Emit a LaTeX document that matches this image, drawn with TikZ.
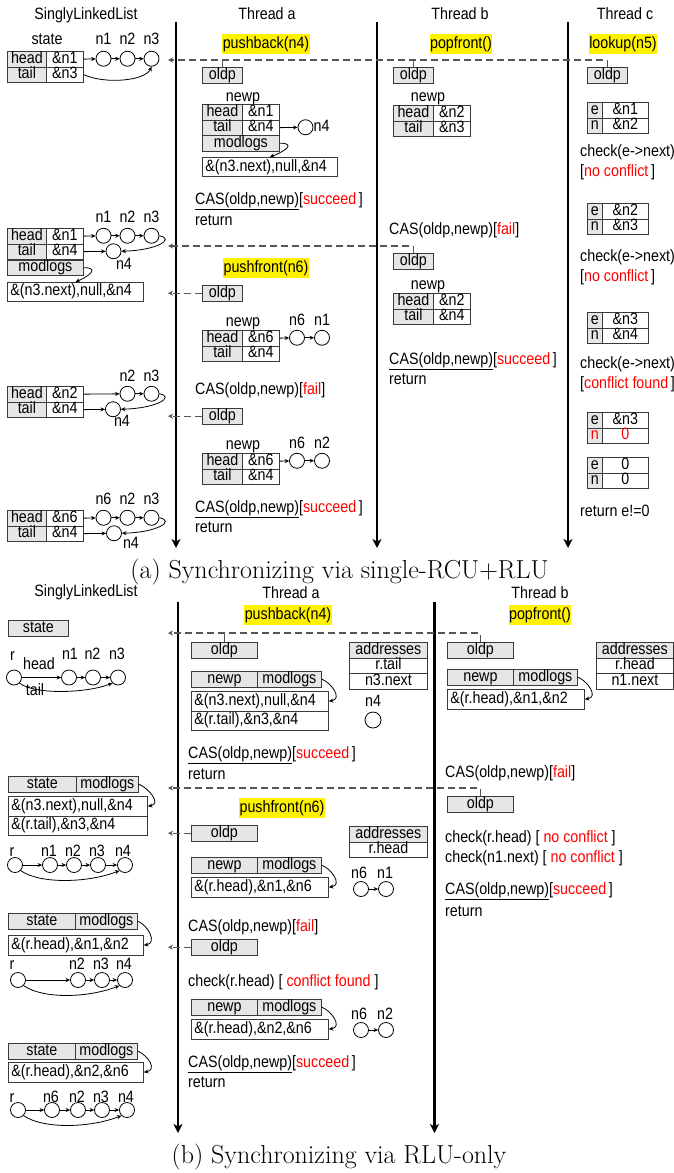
\documentclass[tikz,border=0pt]{standalone}
\usepackage{fontspec}
\setmainfont{Latin Modern Roman}
\newfontfamily\labfont[FakeStretch=0.87]{Liberation Sans}
\usetikzlibrary{arrows.meta}
\definecolor{cfill}{HTML}{E6E6E6}
\definecolor{bdr}{HTML}{3A3A3A}
\definecolor{dgr}{HTML}{555555}
\tikzset{
 lbl/.style={font={\labfont\fontsize{16.4}{19}\selectfont}, inner sep=0pt, text height=11.7pt, text depth=3.4pt},
 txl/.style={lbl, anchor=west},
 cell/.style={lbl, draw=bdr, line width=0.8pt, anchor=north west, minimum height=15.5pt},
 cg/.style={cell, fill=cfill},
 cw/.style={cell, fill=white},
 logc/.style={cell, fill=white, inner xsep=3pt, text width=#1, align=left, minimum height=19.5pt},
 circ/.style={circle, draw=black, line width=0.8pt, minimum size=15pt, inner sep=0pt},
 conn/.style={draw=black, line width=0.8pt, -{Stealth[length=4.5pt,width=4pt]}},
 thr/.style={draw=black, line width=2.2pt, -{Stealth[length=9pt,width=9pt,inset=2.5pt]}},
 dsh/.style={draw=dgr, line width=1.3pt, dash pattern=on 7pt off 4pt, -{Stealth[length=5pt,width=5pt]}},
 tk/.style={draw=dgr, line width=1pt},
 hl/.style={lbl, fill=yellow, inner xsep=0.5pt, inner ysep=2.5pt},
 captxt/.style={font={\fontsize{26}{30}\selectfont}, inner sep=0pt, anchor=base},
}
\begin{document}
\begin{tikzpicture}[x=1pt,y=-1pt]
\useasboundingbox (0,0) rectangle (674,1173);

%%%%%%%%%%%%%%%% (a)
\node[lbl] (tSLa) at (86,15) {SinglyLinkedList};
\node[lbl] (tAa) at (267,15) {Thread a};
\node[lbl] (tBa) at (460,15) {Thread b};
\node[lbl] (tCa) at (625,15) {Thread c};

\coordinate (a1t) at (176,22); \coordinate (a1b) at (176,548);
\coordinate (a2t) at (377,22); \coordinate (a2b) at (377,548);
\coordinate (a3t) at (568,22); \coordinate (a3b) at (568,548);
\draw[thr] (a1t) -- (a1b);
\draw[thr] (a2t) -- (a2b);
\draw[thr] (a3t) -- (a3b);

\node[hl] (hPBa) at (266,44) {pushback(n4)};
\node[hl] (hPopa) at (461,44) {popfront()};
\node[hl] (hLka) at (623,44) {lookup(n5)};
\node[hl] (hPFa) at (266,268) {pushfront(n6)};

% Thread a
\node[cg, minimum width=40pt] (oAa1) at (202,67) {oldp};
\node[lbl] (npAa1) at (243,97) {newp};
\node[cg, minimum width=40pt] (hAa1) at (202,104) {head};
\node[cw, minimum width=37pt] (vAa1) at (242,104) {\&n1};
\node[cg, minimum width=40pt] (tAa1) at (202,119.5) {tail};
\node[cw, minimum width=37pt] (wAa1) at (242,119.5) {\&n4};
\node[cg, minimum width=77pt] (mAa1) at (202,135) {modlogs};
\node[logc=129pt, minimum height=19pt] (gAa1) at (202,157) {\&(n3.next),null,\&n4};
\node[circ] (cAa1) at (305.5,127.25) {};
\node[txl] (lAa1) at (313.5,127.25) {n4};
\draw[conn] (wAa1.east) -- (cAa1);
\draw[conn] (mAa1.east) .. controls +(16,0) and +(16,-6) .. (gAa1.north);
\node[txl] (casAa1) at (195,200) {\underline{CAS(oldp,newp)}[\textcolor{red}{succeed}\,]};
\node[txl] (retAa1) at (195,221) {return};

\node[cg, minimum width=40pt] (oAa2) at (202,285) {oldp};
\node[lbl] (npAa2) at (243,322) {newp};
\node[cg, minimum width=40pt] (hAa2) at (202,330) {head};
\node[cw, minimum width=37pt] (vAa2) at (242,330) {\&n6};
\node[cg, minimum width=40pt] (tAa2) at (202,345.5) {tail};
\node[cw, minimum width=37pt] (wAa2) at (242,345.5) {\&n4};
\node[circ] (c6Aa2) at (297,337.75) {};
\node[circ] (c1Aa2) at (322,337.75) {};
\node[lbl] (l6Aa2) at (297,321) {n6};
\node[lbl] (l1Aa2) at (322,321) {n1};
\draw[conn] (vAa2.east) -- (c6Aa2);
\draw[conn] (c6Aa2) -- (c1Aa2);
\node[txl] (casAa2) at (195,390) {CAS(oldp,newp)[\textcolor{red}{fail}]};

\node[cg, minimum width=40pt] (oAa3) at (202,408) {oldp};
\node[lbl] (npAa3) at (243,445) {newp};
\node[cg, minimum width=40pt] (hAa3) at (202,453) {head};
\node[cw, minimum width=37pt] (vAa3) at (242,453) {\&n6};
\node[cg, minimum width=40pt] (tAa3) at (202,468.5) {tail};
\node[cw, minimum width=37pt] (wAa3) at (242,468.5) {\&n4};
\node[circ] (c6Aa3) at (297,460.75) {};
\node[circ] (c2Aa3) at (322,460.75) {};
\node[lbl] (l6Aa3) at (297,444) {n6};
\node[lbl] (l2Aa3) at (322,444) {n2};
\draw[conn] (vAa3.east) -- (c6Aa3);
\draw[conn] (c6Aa3) -- (c2Aa3);
\node[txl] (casAa3) at (195,508) {\underline{CAS(oldp,newp)}[\textcolor{red}{succeed}\,]};
\node[txl] (retAa3) at (195,528) {return};

% Thread b
\node[cg, minimum width=40pt] (oBa1) at (393,67) {oldp};
\node[lbl] (npBa1) at (428,97) {newp};
\node[cg, minimum width=40pt] (hBa1) at (393,105) {head};
\node[cw, minimum width=37pt] (vBa1) at (433,105) {\&n2};
\node[cg, minimum width=40pt] (tBa1) at (393,120.5) {tail};
\node[cw, minimum width=37pt] (wBa1) at (433,120.5) {\&n3};
\node[txl] (casBa1) at (389,230) {CAS(oldp,newp)[\textcolor{red}{fail}]};
\node[cg, minimum width=40pt] (oBa2) at (393,253) {oldp};
\node[lbl] (npBa2) at (428,285) {newp};
\node[cg, minimum width=40pt] (hBa2) at (393,293) {head};
\node[cw, minimum width=37pt] (vBa2) at (433,293) {\&n2};
\node[cg, minimum width=40pt] (tBa2) at (393,308.5) {tail};
\node[cw, minimum width=37pt] (wBa2) at (433,308.5) {\&n4};
\node[txl] (casBa2) at (389,360) {\underline{CAS(oldp,newp)}[\textcolor{red}{succeed}\,]};
\node[txl] (retBa2) at (389,380) {return};

% Thread c
\node[cg, minimum width=40pt] (oCa) at (587,67) {oldp};
\node[cg, minimum width=15pt] (eC1) at (587,102) {e};
\node[cw, minimum width=46pt] (veC1) at (602,102) {\&n1};
\node[cg, minimum width=15pt] (nC1) at (587,117.5) {n};
\node[cw, minimum width=46pt] (vnC1) at (602,117.5) {\&n2};
\node[txl] (chC1) at (580,152) {check(e->next)};
\node[txl] (rsC1) at (580,172) {[\textcolor{red}{no conflict}\,]};
\node[cg, minimum width=15pt] (eC2) at (587,203) {e};
\node[cw, minimum width=46pt] (veC2) at (602,203) {\&n2};
\node[cg, minimum width=15pt] (nC2) at (587,218.5) {n};
\node[cw, minimum width=46pt] (vnC2) at (602,218.5) {\&n3};
\node[txl] (chC2) at (580,257) {check(e->next)};
\node[txl] (rsC2) at (580,277) {[\textcolor{red}{no conflict}\,]};
\node[cg, minimum width=15pt] (eC3) at (587,312) {e};
\node[cw, minimum width=46pt] (veC3) at (602,312) {\&n3};
\node[cg, minimum width=15pt] (nC3) at (587,327.5) {n};
\node[cw, minimum width=46pt] (vnC3) at (602,327.5) {\&n4};
\node[txl] (chC3) at (580,364) {check(e->next)};
\node[txl] (rsC3) at (580,384) {[\textcolor{red}{conflict found}\,]};
\node[cg, minimum width=15pt] (eC4) at (587,412) {e};
\node[cw, minimum width=46pt] (veC4) at (602,412) {\&n3};
\node[cg, minimum width=15pt, text=red] (nC4) at (587,427.5) {n};
\node[cw, minimum width=46pt, text=red] (vnC4) at (602,427.5) {0};
\node[cg, minimum width=15pt] (eC5) at (587,457) {e};
\node[cw, minimum width=46pt] (veC5) at (602,457) {0};
\node[cg, minimum width=15pt] (nC5) at (587,472.5) {n};
\node[cw, minimum width=46pt] (vnC5) at (602,472.5) {0};
\node[txl] (retC) at (580,512) {return e!=0};

% dashed (a)
\coordinate (da1) at (168,60);
\coordinate (da2) at (168,246);
\draw[dsh] (oCa.north) |- (da1);
\draw[tk] (oAa1.north) -- (oAa1.north |- da1);
\draw[tk] (oBa1.north) -- (oBa1.north |- da1);
\draw[dsh] (oBa2.north) |- (da2);
\draw[dsh] (oAa2.west) -- (oAa2.west -| da1);
\draw[dsh] (oAa3.west) -- (oAa3.west -| da1);

% left (a) block 1
\node[lbl] (stL1) at (47,40) {state};
\node[lbl] (l1L1) at (103.5,40) {n1};
\node[lbl] (l2L1) at (127.5,40) {n2};
\node[lbl] (l3L1) at (151.5,40) {n3};
\node[cg, minimum width=39pt] (hL1) at (7,51) {head};
\node[cw, minimum width=37pt] (vL1) at (46,51) {\&n1};
\node[cg, minimum width=39pt] (tL1) at (7,66.5) {tail};
\node[cw, minimum width=37pt] (wL1) at (46,66.5) {\&n3};
\node[circ] (c1L1) at (103.5,58.75) {};
\node[circ] (c2L1) at (127.5,58.75) {};
\node[circ] (c3L1) at (151.5,58.75) {};
\draw[conn] (vL1.east) -- (c1L1);
\draw[conn] (c1L1) -- (c2L1);
\draw[conn] (c2L1) -- (c3L1);
\draw[conn] (wL1.east) .. controls +(22,10) and +(-6,14) .. (c3L1.south);

% left (a) block 2
\node[lbl] (l1L2) at (103.5,218) {n1};
\node[lbl] (l2L2) at (127.5,218) {n2};
\node[lbl] (l3L2) at (151.5,218) {n3};
\node[cg, minimum width=39pt] (hL2) at (7,228) {head};
\node[cw, minimum width=37pt] (vL2) at (46,228) {\&n1};
\node[cg, minimum width=39pt] (tL2) at (7,243.5) {tail};
\node[cw, minimum width=37pt] (wL2) at (46,243.5) {\&n4};
\node[cg, minimum width=76pt] (mL2) at (7,259.5) {modlogs};
\node[logc=130pt, minimum height=18.5pt] (gL2) at (7,282) {\&(n3.next),null,\&n4};
\node[circ] (c1L2) at (103.5,235.75) {};
\node[circ] (c2L2) at (127.5,235.75) {};
\node[circ] (c3L2) at (151.5,235.75) {};
\node[circ] (c4L2) at (113.5,251.25) {};
\node[lbl] (l4L2) at (124,265) {n4};
\draw[conn] (vL2.east) -- (c1L2);
\draw[conn] (c1L2) -- (c2L2);
\draw[conn] (c2L2) -- (c3L2);
\draw[conn] (wL2.east) -- (c4L2);
\draw[conn] (c3L2.east) .. controls +(16,3) and +(36,-1) .. (c4L2.east);
\draw[conn] (mL2.east) .. controls +(16,0) and +(14,-6) .. (gL2.north);

% left (a) block 3
\node[lbl] (l2L3) at (127.5,377) {n2};
\node[lbl] (l3L3) at (151.5,377) {n3};
\node[cg, minimum width=39pt] (hL3) at (7,386) {head};
\node[cw, minimum width=37pt] (vL3) at (46,386) {\&n2};
\node[cg, minimum width=39pt] (tL3) at (7,401.5) {tail};
\node[cw, minimum width=37pt] (wL3) at (46,401.5) {\&n4};
\node[circ] (c2L3) at (127.5,393.75) {};
\node[circ] (c3L3) at (151.5,393.75) {};
\node[circ] (c4L3) at (113,409.25) {};
\node[lbl] (l4L3) at (122,422) {n4};
\draw[conn] (vL3.east) -- (c2L3);
\draw[conn] (c2L3) -- (c3L3);
\draw[conn] (wL3.east) -- (c4L3);
\draw[conn] (c3L3.east) .. controls +(16,3) and +(36,-1) .. (c4L3.east);

% left (a) block 4
\node[lbl] (l6L4) at (103.5,500) {n6};
\node[lbl] (l2L4) at (127.5,500) {n2};
\node[lbl] (l3L4) at (151.5,500) {n3};
\node[cg, minimum width=39pt] (hL4) at (7,510) {head};
\node[cw, minimum width=37pt] (vL4) at (46,510) {\&n6};
\node[cg, minimum width=39pt] (tL4) at (7,525.5) {tail};
\node[cw, minimum width=37pt] (wL4) at (46,525.5) {\&n4};
\node[circ] (c6L4) at (103.5,517.75) {};
\node[circ] (c2L4) at (127.5,517.75) {};
\node[circ] (c3L4) at (151.5,517.75) {};
\node[circ] (c4L4) at (114,533.25) {};
\node[lbl] (l4L4) at (131,544) {n4};
\draw[conn] (vL4.east) -- (c6L4);
\draw[conn] (c6L4) -- (c2L4);
\draw[conn] (c2L4) -- (c3L4);
\draw[conn] (wL4.east) -- (c4L4);
\draw[conn] (c3L4.east) .. controls +(16,3) and +(36,-1) .. (c4L4.east);

\node[captxt] (capa) at (339.5,578) {(a) Synchronizing via single-RCU+RLU};

%%%%%%%%%%%%%%%% (b)
\node[lbl] (tSLb) at (86,592) {SinglyLinkedList};
\node[lbl] (tAb) at (291,594) {Thread a};
\node[lbl] (tBb) at (540,594) {Thread b};

\coordinate (b1t) at (178,602); \coordinate (b1b) at (178,1133);
\coordinate (b2t) at (434.5,602); \coordinate (b2b) at (434.5,1133);
\draw[thr] (b1t) -- (b1b);
\draw[thr] (b2t) -- (b2b);

\node[hl] (hPBb) at (288,615) {pushback(n4)};
\node[hl] (hPopb) at (540,615) {popfront()};
\node[hl] (hPFb) at (282,808) {pushfront(n6)};

% Thread a (b)
\node[cg, minimum width=66pt] (oAb1) at (191,642) {oldp};
\node[cg, minimum width=78pt] (aAb1) at (349,642) {addresses};
\node[cw, minimum width=78pt] (aAb1b) at (349,657.5) {r.tail};
\node[cw, minimum width=78pt] (aAb1c) at (349,673) {n3.next};
\node[cg, minimum width=66pt] (npAb1) at (191,671) {newp};
\node[cg, minimum width=64pt] (mAb1) at (257,671) {modlogs};
\node[logc=131pt] (gAb1) at (191,691) {\&(n3.next),null,\&n4};
\node[logc=131pt] (gAb1b) at (191,710.5) {\&(r.tail),\&n3,\&n4};
\draw[conn] (mAb1.east) .. controls +(10,4) and +(14,-2) .. (gAb1.east);
\node[lbl] (l4Ab1) at (373,702) {n4};
\node[circ, minimum size=16pt] (c4Ab1) at (373,720) {};
\node[txl] (casAb1) at (188,754) {\underline{CAS(oldp,newp)}[\textcolor{red}{succeed}\,]};
\node[txl] (retAb1) at (188,775) {return};

\node[cg, minimum width=66pt] (oAb2) at (191,825) {oldp};
\node[cg, minimum width=78pt] (aAb2) at (349,826) {addresses};
\node[cw, minimum width=78pt] (aAb2b) at (349,841.5) {r.head};
\node[cg, minimum width=66pt] (npAb2) at (191,857) {newp};
\node[cg, minimum width=64pt] (mAb2) at (257,857) {modlogs};
\node[logc=131pt] (gAb2) at (191,877) {\&(r.head),\&n1,\&n6};
\draw[conn] (mAb2.east) .. controls +(10,4) and +(14,-2) .. (gAb2.east);
\node[lbl] (l6Ab2) at (359,874) {n6};
\node[lbl] (l1Ab2) at (385,874) {n1};
\node[circ] (c6Ab2) at (361,889) {};
\node[circ] (c1Ab2) at (386,889) {};
\draw[conn] (c6Ab2) -- (c1Ab2);
\node[txl] (casAb2) at (188,927) {CAS(oldp,newp)[\textcolor{red}{fail}]};
\node[cg, minimum width=66pt] (oAb3) at (191,939) {oldp};
\node[txl] (chAb3) at (188,982) {check(r.head) [ \textcolor{red}{conflict found} ]};
\node[cg, minimum width=66pt] (npAb3) at (191,999) {newp};
\node[cg, minimum width=64pt] (mAb3) at (257,999) {modlogs};
\node[logc=131pt] (gAb3) at (191,1019) {\&(r.head),\&n2,\&n6};
\draw[conn] (mAb3.east) .. controls +(10,4) and +(14,-2) .. (gAb3.east);
\node[lbl] (l6Ab3) at (359,1015) {n6};
\node[lbl] (l2Ab3) at (385,1015) {n2};
\node[circ] (c6Ab3) at (361,1030) {};
\node[circ] (c2Ab3) at (386,1030) {};
\draw[conn] (c6Ab3) -- (c2Ab3);
\node[txl] (casAb3) at (188,1063) {\underline{CAS(oldp,newp)}[\textcolor{red}{succeed}\,]};
\node[txl] (retAb3) at (188,1083) {return};

% Thread b (b)
\node[cg, minimum width=66pt] (oBb1) at (447,642) {oldp};
\node[cg, minimum width=77pt] (aBb) at (596,642) {addresses};
\node[cw, minimum width=77pt] (aBbb) at (596,657.5) {r.head};
\node[cw, minimum width=77pt] (aBbc) at (596,673) {n1.next};
\node[cg, minimum width=66pt] (npBb) at (447,669) {newp};
\node[cg, minimum width=64pt] (mBb) at (513,669) {modlogs};
\node[logc=131pt] (gBb) at (447,689) {\&(r.head),\&n1,\&n2};
\draw[conn] (mBb.east) .. controls +(10,4) and +(14,-2) .. (gBb.east);
\node[txl] (casBb1) at (445,773) {CAS(oldp,newp)[\textcolor{red}{fail}]};
\node[cg, minimum width=66pt] (oBb2) at (447,796) {oldp};
\node[txl] (chBb1) at (445,838) {check(r.head) [ \textcolor{red}{no conflict} ]};
\node[txl] (chBb2) at (445,858) {check(n1.next) [ \textcolor{red}{no conflict} ]};
\node[txl] (casBb2) at (445,890) {\underline{CAS(oldp,newp)}[\textcolor{red}{succeed}\,]};
\node[txl] (retBb2) at (445,912) {return};

% dashed (b)
\coordinate (db1) at (168,633);
\coordinate (db2) at (168,788);
\draw[dsh] (oBb1.north) |- (db1);
\draw[tk] (oAb1.north) -- (oAb1.north |- db1);
\draw[dsh] (oBb2.north) |- (db2);
\draw[dsh] (oAb2.west) -- (oAb2.west -| db1);
\draw[dsh] (oAb3.west) -- (oAb3.west -| db1);

% left (b) block 1
\node[cg, minimum width=60pt] (sL1b) at (8,620) {state};
\node[lbl] (lrL1b) at (12.5,656) {r};
\node[lbl] (l1L1b) at (70,655) {n1};
\node[lbl] (l2L1b) at (92.5,655) {n2};
\node[lbl] (l3L1b) at (117,655) {n3};
\node[lbl] (hdL1b) at (39,665) {head};
\node[lbl] (tlL1b) at (35,691) {tail};
\node[circ] (rL1b) at (14,677.5) {};
\node[circ] (c1L1b) at (69,677.5) {};
\node[circ] (c2L1b) at (93,677.5) {};
\node[circ] (c3L1b) at (118,677.5) {};
\draw[conn] (rL1b) -- (c1L1b);
\draw[conn] (c1L1b) -- (c2L1b);
\draw[conn] (c2L1b) -- (c3L1b);
\draw[conn] (rL1b.south east) .. controls +(15,12) and +(-25,10) .. (c3L1b.south west);

% left (b) block 2
\node[cg, minimum width=68pt] (sL2b) at (8,776) {state};
\node[cg, minimum width=62pt] (mL2b) at (76,776) {modlogs};
\node[logc=133pt] (gL2b) at (8,796) {\&(n3.next),null,\&n4};
\node[logc=133pt] (gL2bb) at (8,815.5) {\&(r.tail),\&n3,\&n4};
\draw[conn] (mL2b.east) .. controls +(10,4) and +(14,-2) .. (gL2b.east);
\node[lbl] (lrL2b) at (12,852) {r};
\node[lbl] (l1L2b) at (49,852) {n1};
\node[lbl] (l2L2b) at (73,852) {n2};
\node[lbl] (l3L2b) at (97,852) {n3};
\node[lbl] (l4L2b) at (123,852) {n4};
\node[circ] (rL2b) at (15,865) {};
\node[circ] (c1L2b) at (50,865) {};
\node[circ] (c2L2b) at (74,865) {};
\node[circ] (c3L2b) at (98,865) {};
\node[circ] (c4L2b) at (125,865) {};
\draw[conn] (rL2b) -- (c1L2b);
\draw[conn] (c1L2b) -- (c2L2b);
\draw[conn] (c2L2b) -- (c3L2b);
\draw[conn] (c3L2b) -- (c4L2b);
\draw[conn] (rL2b.south east) .. controls +(20,14) and +(-30,12) .. (c4L2b.south west);

% left (b) block 3
\node[cg, minimum width=67pt] (sL3b) at (8,913) {state};
\node[cg, minimum width=62pt] (mL3b) at (75,913) {modlogs};
\node[logc=129pt] (gL3b) at (8,935) {\&(r.head),\&n1,\&n2};
\draw[conn] (mL3b.east) .. controls +(10,4) and +(14,-2) .. (gL3b.east);
\node[lbl] (lrL3b) at (12,965) {r};
\node[lbl] (l2L3b) at (77,965) {n2};
\node[lbl] (l3L3b) at (101,965) {n3};
\node[lbl] (l4L3b) at (124,965) {n4};
\node[circ] (rL3b) at (18,980) {};
\node[circ] (c2L3b) at (78,980) {};
\node[circ] (c3L3b) at (102,980) {};
\node[circ] (c4L3b) at (125,980) {};
\draw[conn] (rL3b) -- (c2L3b);
\draw[conn] (c2L3b) -- (c3L3b);
\draw[conn] (c3L3b) -- (c4L3b);
\draw[conn] (rL3b.south east) .. controls +(20,14) and +(-30,12) .. (c4L3b.south west);

% left (b) block 4
\node[cg, minimum width=67pt] (sL4b) at (8,1043) {state};
\node[cg, minimum width=62pt] (mL4b) at (75,1043) {modlogs};
\node[logc=129pt] (gL4b) at (8,1062) {\&(r.head),\&n2,\&n6};
\draw[conn] (mL4b.east) .. controls +(10,4) and +(14,-2) .. (gL4b.east);
\node[lbl] (lrL4b) at (12,1098) {r};
\node[lbl] (l6L4b) at (51,1098) {n6};
\node[lbl] (l2L4b) at (77,1098) {n2};
\node[lbl] (l3L4b) at (101,1098) {n3};
\node[lbl] (l4L4b) at (126,1098) {n4};
\node[circ] (rL4b) at (18,1110) {};
\node[circ] (c6L4b) at (52,1110) {};
\node[circ] (c2L4b) at (78,1110) {};
\node[circ] (c3L4b) at (102,1110) {};
\node[circ] (c4L4b) at (127,1110) {};
\draw[conn] (rL4b) -- (c6L4b);
\draw[conn] (c6L4b) -- (c2L4b);
\draw[conn] (c2L4b) -- (c3L4b);
\draw[conn] (c3L4b) -- (c4L4b);
\draw[conn] (rL4b.south east) .. controls +(20,14) and +(-30,12) .. (c4L4b.south west);

\node[captxt] (capb) at (339,1163) {(b) Synchronizing via RLU-only};
\end{tikzpicture}
\end{document}
